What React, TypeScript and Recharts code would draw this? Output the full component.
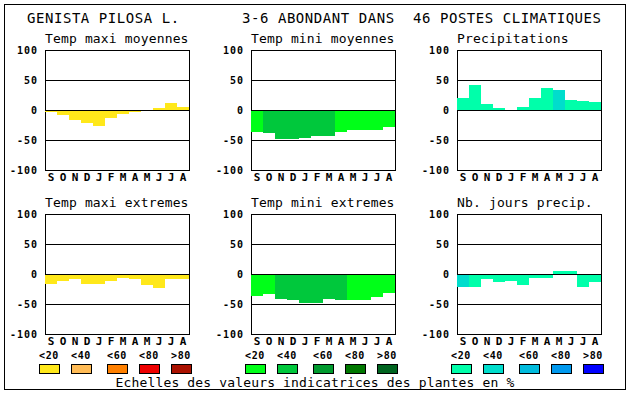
import React from "react";
import { BarChart, Bar, XAxis, YAxis, Cell, ReferenceLine, ReferenceArea } from "recharts";

// month keys are unique so the category axis can find them; labels are what gets printed
const monthKeys = ["Sep", "Oct", "Nov", "Dec", "Jan", "Feb", "Mar", "Apr", "May", "Jun", "Jul", "Aug"];
const monthLabels = ["S", "O", "N", "D", "J", "F", "M", "A", "M", "J", "J", "A"];
const yTicks = [-100, -50, 0, 50, 100];
const scaleLabels = ["<20", "<40", "<60", "<80", ">80"];

// colour scales (one per column)
const yellows = ["#FFE81A", "#FFBB55", "#FF8000", "#EE0000", "#AA1100"];
const greens = ["#00FF18", "#00C83C", "#009A2E", "#007800", "#006420"];
const blues = ["#00FFAA", "#00DDCC", "#00BBDD", "#0099EE", "#0000FF"];

// values, level = index in the colour scale
const maxiMoy = [-3, -8, -16, -21, -27, -14, -6, -4, 0, 4, 12, 5];
const maxiMoyLevel = [0, 0, 0, 0, 0, 0, 0, 0, 0, 0, 0, 0];
const miniMoy = [-36, -38, -48, -48, -46, -44, -43, -36, -34, -34, -33, -28];
const miniMoyLevel = [0, 1, 1, 1, 1, 1, 1, 0, 0, 0, 0, 0];
const precip = [20, 42, 10, 3, 0, 5, 20, 37, 33, 17, 15, 13];
const precipLevel = [0, 0, 0, 0, 0, 0, 0, 0, 1, 0, 0, 0];
const maxiExt = [-16, -11, -8, -16, -16, -11, -6, -8, -18, -23, -8, -8];
const maxiExtLevel = [0, 0, 0, 0, 0, 0, 0, 0, 0, 0, 0, 0];
const miniExt = [-36, -34, -41, -44, -48, -49, -41, -43, -44, -43, -38, -31];
const miniExtLevel = [0, 0, 1, 1, 1, 1, 1, 1, 0, 0, 0, 0];
const joursPrecip = [-21, -21, -8, -13, -11, -18, -6, -6, 5, 5, -21, -13];
const joursPrecipLevel = [1, 0, 0, 0, 0, 0, 0, 0, 0, 0, 0, 0];

const FONT = "'DejaVu Sans Mono', monospace";
const colLeft = [45, 251, 457];
const rowTop = [50, 214];

type PanelProps = {
  left: number;
  top: number;
  values: number[];
  levels: number[];
  palette: string[];
};

const Panel = ({ left, top, values, levels, palette }: PanelProps) => {
  const data = monthKeys.map((k, i) => ({ k, v: values[i], lv: levels[i] }));
  return (
    <div className="chart" style={{ position: "absolute", left: left - 40, top: top - 10 }}>
      <BarChart
        width={190}
        height={152}
        data={data}
        margin={{ top: 10, right: 6, left: 0, bottom: 0 }}
        barCategoryGap={0}
        barGap={0}
      >
        <XAxis
          dataKey="k"
          interval={0}
          tickLine={false}
          axisLine={false}
          tickSize={0}
          tickMargin={3}
          height={22}
          tickFormatter={(v: string) => monthLabels[monthKeys.indexOf(v)]}
          tick={{ fill: "#000", fontSize: 11, fontWeight: "bold", fontFamily: FONT }}
        />
        <YAxis
          domain={[-100, 100]}
          ticks={yTicks}
          interval={0}
          width={40}
          tickLine={false}
          axisLine={false}
          tickSize={5}
          tickMargin={2}
          tick={{ fill: "#000", fontSize: 10, fontWeight: "bold", fontFamily: FONT, letterSpacing: 1 }}
        />
        <Bar dataKey="v" isAnimationActive={false}>
          {data.map((d, i) => (
            <Cell key={i} fill={palette[d.lv]} />
          ))}
        </Bar>
        <ReferenceLine y={50} stroke="#000" />
        <ReferenceLine y={0} stroke="#000" />
        <ReferenceLine y={-50} stroke="#000" />
        <ReferenceArea x1="Sep" x2="Aug" y1={-100} y2={100} fill="none" stroke="#000" strokeOpacity={1} />
      </BarChart>
    </div>
  );
};

const panels = [
  { title: "Temp maxi moyennes", values: maxiMoy, levels: maxiMoyLevel, palette: yellows, col: 0, row: 0 },
  { title: "Temp mini moyennes", values: miniMoy, levels: miniMoyLevel, palette: greens, col: 1, row: 0 },
  { title: "Precipitations", values: precip, levels: precipLevel, palette: blues, col: 2, row: 0 },
  { title: "Temp maxi extremes", values: maxiExt, levels: maxiExtLevel, palette: yellows, col: 0, row: 1 },
  { title: "Temp mini extremes", values: miniExt, levels: miniExtLevel, palette: greens, col: 1, row: 1 },
  { title: "Nb. jours precip.", values: joursPrecip, levels: joursPrecipLevel, palette: blues, col: 2, row: 1 },
];
const palettes = [yellows, greens, blues];
const swatchOffsets = [-6, 26, 62, 94, 126];

export default function App() {
  return (
    <div
      style={{
        position: "absolute",
        left: 0,
        top: 0,
        width: 630,
        height: 394,
        background: "#fff",
        overflow: "hidden",
      }}
    >
      <style>{`.chart svg * { shape-rendering: crispEdges; }`}</style>
      <svg width={630} height={394} style={{ position: "absolute", left: 0, top: 0 }}>
        <rect x={4.5} y={4.5} width={621} height={385} fill="none" stroke="#000" />
        <g fontFamily={FONT} fill="#000">
          <text x={27} y={23} fontSize={14} letterSpacing={0.55}>GENISTA PILOSA L.</text>
          <text x={242} y={23} fontSize={14} letterSpacing={0.55}>3-6 ABONDANT DANS</text>
          <text x={413} y={23} fontSize={14} letterSpacing={0.55}>46 POSTES CLIMATIQUES</text>
          {panels.map((p) => (
            <text key={p.title} x={colLeft[p.col]} y={rowTop[p.row] - 7} fontSize={13} letterSpacing={0.15}>
              {p.title}
            </text>
          ))}
          {palettes.map((pal, c) =>
            pal.map((color, i) => (
              <g key={`${c}-${i}`}>
                <text
                  x={colLeft[c] + swatchOffsets[i] + 10}
                  y={358.5}
                  fontSize={10}
                  fontWeight="bold"
                  letterSpacing={0.7}
                  textAnchor="middle"
                >
                  {scaleLabels[i]}
                </text>
                <rect
                  x={colLeft[c] + swatchOffsets[i] + 0.5}
                  y={364.5}
                  width={20}
                  height={9}
                  fill={color}
                  stroke="#000"
                />
              </g>
            ))
          )}
          <text x={315} y={386.5} fontSize={13} letterSpacing={0.15} textAnchor="middle">
            Echelles des valeurs indicatrices des plantes en %
          </text>
        </g>
      </svg>
      {panels.map((p) => (
        <Panel
          key={p.title}
          left={colLeft[p.col]}
          top={rowTop[p.row]}
          values={p.values}
          levels={p.levels}
          palette={p.palette}
        />
      ))}
    </div>
  );
}
